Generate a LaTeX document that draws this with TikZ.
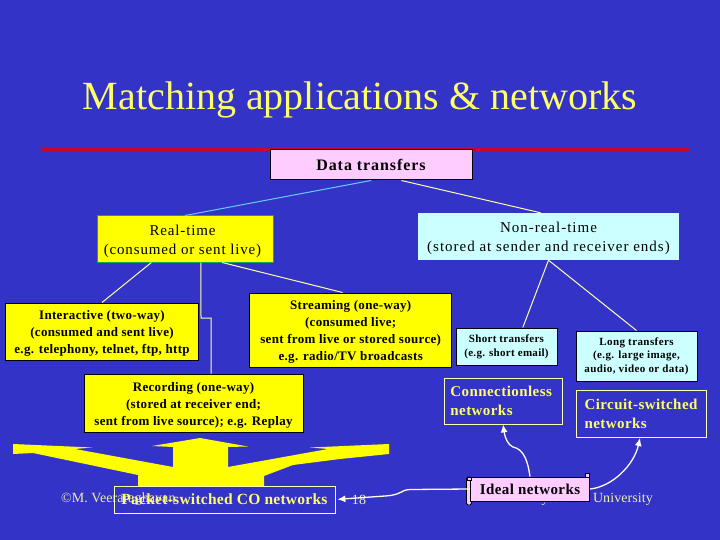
\documentclass[tikz,border=0pt]{standalone}
\usepackage{fontspec}
\setmainfont{Liberation Serif}
\usetikzlibrary{arrows.meta,calc}
\definecolor{bg}{RGB}{51,51,200}
\definecolor{yel}{RGB}{255,255,0}
\definecolor{ptxt}{RGB}{255,255,102}
\definecolor{pinkb}{RGB}{255,204,255}
\definecolor{cyanb}{RGB}{204,255,255}
\definecolor{redl}{RGB}{204,0,51}
\definecolor{cream}{RGB}{255,255,170}
\definecolor{foot}{RGB}{238,238,170}
\newcommand{\fs}[3]{\fontsize{#1}{#2}\selectfont\addfontfeature{LetterSpace=#3}}
\newcommand{\padtop}[1]{\rule{0pt}{#1pt}}
\tikzset{
 x=1pt,y=-1pt,
 boxn/.style={inner sep=0pt,align=center,text=black,anchor=center},
 blk/.style={boxn,draw=black,line width=1pt},
 yb/.style={blk,fill=yel,font=\fs{13}{17}{2.5}\bfseries},
 cb/.style={blk,fill=cyanb},
 net/.style={inner sep=0pt,draw=cream,line width=.8pt,text=ptxt,font=\fs{15}{19}{2.9}\bfseries},
 lnk/.style={line width=1pt,draw=#1},
 lnk/.default=cream,
 arrw/.style={draw=white!90!yellow,line width=1.3pt,-{Latex[length=8pt,width=7pt]}},
 foott/.style={text=foot,font=\fs{14}{15}{0.5},inner sep=0pt}
}
\begin{document}
\begin{tikzpicture}
\useasboundingbox (0,0) rectangle (720,540);
\fill[bg] (0,0) rectangle (720,540);
\node[text=ptxt,font=\fontsize{40}{42}\selectfont,inner sep=0pt] (title) at (360,100) {Matching applications \& networks};
\fill[redl] (42,148.5) rectangle (690,151.5);
% yellow arrow shape
\fill[yel] (13,444) -- (92,447.5) -- (75,449) -- (173,467) -- (173,447) -- (152,446) -- (200,438) -- (248,446.5) -- (228,447) -- (228,467) -- (328,449) -- (310,447.5) -- (389,444) -- (389,454) -- (340,459) -- (293,465) -- (264,476) -- (264,486) -- (138,486) -- (138,475) -- (33,453) -- (13,454) -- cycle;
% footer
\node[foott,anchor=west] (fa) at (61,499.5) {©M. Veeraraghavan};
\node[foott,anchor=center] (fb) at (359,499.5) {18};
\node[foott,anchor=east] (fc) at (653,499.5) {Polytechnic University};
% boxes
\node[boxn,draw=black,line width=1pt,fill=pinkb,minimum width=202pt,minimum height=30pt,font=\fs{16}{18}{5.8}\bfseries] (data) at (371,165) {Data transfers};
\node[boxn,draw=green!60!cyan!70!black,line width=1pt,fill=yel,minimum width=176pt,minimum height=46pt,font=\fs{15}{19}{5.7}] (real) at (185,239) {\padtop{15}Real-time\hspace*{5pt}\\(consumed or sent live)\hspace*{5pt}};
\node[boxn,fill=cyanb,minimum width=261pt,minimum height=47pt,font=\fs{15}{19}{6.6}] (nonreal) at (548.5,236.5) {\padtop{15}Non-real-time\\(stored at sender and receiver ends)};
\node[yb,minimum width=192.5pt,minimum height=57pt] (inter) at (102,331.5) {\padtop{13}Interactive (two-way)\\(consumed and sent live)\\e.g. telephony, telnet, ftp, http};
\node[yb,minimum width=201.5pt,minimum height=74pt] (stream) at (350.7,330) {\padtop{13}Streaming (one-way)\\(consumed live;\\sent from live or stored source)\\e.g. radio/TV broadcasts};
\node[yb,minimum width=219pt,minimum height=58pt] (rec) at (193.5,403) {\padtop{13}Recording (one-way)\\(stored at receiver end;\\sent from live source); e.g. Replay};
\node[cb,minimum width=101pt,minimum height=37pt,font=\fs{11}{14}{2.7}\bfseries] (short) at (506.5,346.5) {Short transfers\\(e.g. short email)};
\node[cb,minimum width=121pt,minimum height=50pt,font=\fs{11}{13.5}{3.7}\bfseries] (long) at (636.5,356) {Long transfers\\(e.g. large image,\\audio, video or data)};
\node[net,minimum width=118pt,minimum height=46pt,align=left] (conn) at (503,401) {Connectionless\\networks\hspace*{43pt}};
\node[net,minimum width=130pt,minimum height=47pt,align=left] (circ) at (641,413.5) {Circuit-switched\\networks\hspace*{50pt}};
\node[inner sep=0pt,draw=cream,line width=.8pt,minimum width=221pt,minimum height=27pt,text=ptxt,font=\fs{15.5}{18}{1.7}\bfseries] (pack) at (224.5,499.5) {Packet-switched CO networks};
% ideal scroll
\fill[pinkb,draw=black,line width=.8pt,rounded corners=1.5pt] (466.5,477) rectangle (471.5,505);
\fill[pinkb,draw=black,line width=.8pt] (585.5,473) rectangle (589,477);
\node[inner sep=0pt,draw=black,line width=.8pt,fill=pinkb,minimum width=119pt,minimum height=24pt,text=black,font=\fs{15}{18}{2.7}\bfseries] (ideal) at (530,489) {Ideal networks};
\fill[pinkb,draw=black,line width=.6pt] (467.5,477) rectangle (471,480.5);
% connectors
\coordinate (ea) at (201,318);
\coordinate (eb) at (211,318);
\draw[lnk=cyan!60!white] (data.south) -- (real.north);
\draw[lnk] ($(data.south west)!.65!(data.south east)$) -- ($(nonreal.north west)!.47!(nonreal.north east)$);
\draw[lnk] ($(real.south west)!.31!(real.south east)$) -- (inter.north);
\draw[lnk] ($(real.south west)!.59!(real.south east)$) -- (ea) -- (eb) -- ($(rec.north west)!.58!(rec.north east)$);
\draw[lnk] ($(real.south west)!.71!(real.south east)$) -- ($(stream.north west)!.46!(stream.north east)$);
\draw[lnk] (nonreal.south) -- ($(short.north west)!.66!(short.north east)$);
\draw[lnk] (nonreal.south) -- (long.north);
\draw[arrw] (ideal.north) .. controls (528,462) and (524,449) .. (513,447) .. controls (508,445) and (505,438) .. (conn.south);
\draw[arrw] (ideal.east) .. controls (612,487) and (634,465) .. (640,438);
\draw[arrw,shorten >=2pt] (ideal.west) -- (410,489.5) .. controls (400,490) and (402,495) .. (385,496) -- (pack.east);
\end{tikzpicture}
\end{document}
